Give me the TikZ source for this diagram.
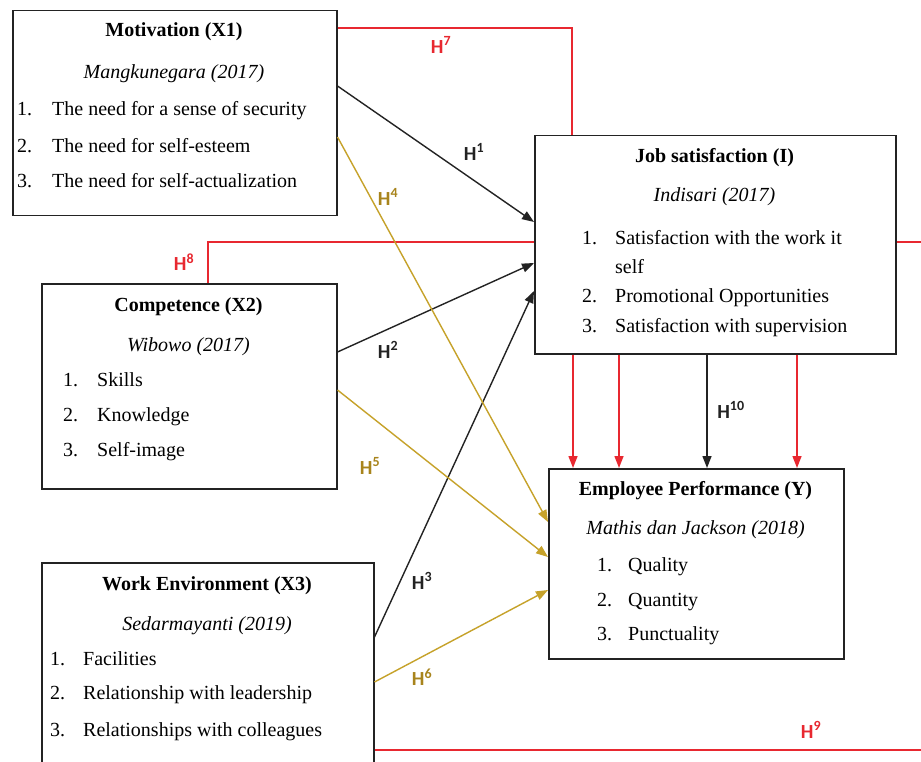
\documentclass[tikz,border=0pt]{standalone}
\usepackage{fontspec}
\setmainfont{Liberation Serif}
\newfontfamily\hypfont{Carlito}
\usetikzlibrary{arrows.meta, calc}

\definecolor{hred}{RGB}{232,40,48}
\definecolor{hgold}{RGB}{198,162,42}
\definecolor{hgoldtxt}{RGB}{168,132,28}
\definecolor{hblack}{RGB}{35,35,35}

\newcommand{\boxfont}{\fontsize{20}{24}\selectfont}

\begin{document}
\begin{tikzpicture}[x=1pt, y=-1pt,
  box/.style={draw=hblack, line width=1.5pt, anchor=north west, inner sep=0pt},
  ttl/.style={font=\boxfont\bfseries, anchor=base},
  cite/.style={font=\boxfont\itshape, anchor=base},
  itm/.style={font=\boxfont, anchor=base west, inner sep=0pt},
  hyp/.style={font=\hypfont\fontsize{20}{24}\selectfont\bfseries},
  blkarr/.style={draw=hblack, line width=1.4pt, -{Triangle[length=12pt,width=9pt]}},
  goldarr/.style={draw=hgold, line width=1.4pt, -{Triangle[length=12pt,width=9pt]}},
  redarr/.style={draw=hred, line width=1.4pt, -{Triangle[length=12pt,width=9pt]}},
  redline/.style={draw=hred, line width=1.4pt}]
\useasboundingbox (0,0) rectangle (921,762);
\fill[white] (0,0) rectangle (921,762);

% kotak variabel
\node[box, minimum width=324pt, minimum height=205pt] (mot) at (12,10) {};
\node[box, minimum width=295pt, minimum height=205pt] (comp) at (41,283) {};
\node[box, minimum width=332pt, minimum height=222pt] (env) at (41,562) {};
\node[box, minimum width=361pt, minimum height=218pt] (job) at (534,135) {};
\node[box, minimum width=295pt, minimum height=190pt] (perf) at (548,468) {};

% Motivation (X1)
\node[ttl] (motT) at (174,37) {Motivation (X1)};
\node[cite] (motC) at (174,79) {Mangkunegara (2017)};
\node[itm] (motA) at (17,116) {\makebox[35pt][l]{1.}The need for a sense of security};
\node[itm] (motB) at (17,153) {\makebox[35pt][l]{2.}The need for self-esteem};
\node[itm] (motD) at (17,188) {\makebox[35pt][l]{3.}The need for self-actualization};

% Competence (X2)
\node[ttl] (compT) at (188.5,311) {Competence (X2)};
\node[cite] (compC) at (188.5,351) {Wibowo (2017)};
\node[itm] (compA) at (63,386) {\makebox[34pt][l]{1.}Skills};
\node[itm] (compB) at (63,421) {\makebox[34pt][l]{2.}Knowledge};
\node[itm] (compD) at (63,456) {\makebox[34pt][l]{3.}Self-image};

% Work Environment (X3)
\node[ttl] (envT) at (207,590) {Work Environment (X3)};
\node[cite] (envC) at (207,630) {Sedarmayanti (2019)};
\node[itm] (envA) at (50,665) {\makebox[33pt][l]{1.}Facilities};
\node[itm] (envB) at (50,699) {\makebox[33pt][l]{2.}Relationship with leadership};
\node[itm] (envD) at (50,736) {\makebox[33pt][l]{3.}Relationships with colleagues};

% Job satisfaction (I)
\node[ttl] (jobT) at (714.5,163) {Job satisfaction (I)};
\node[cite] (jobC) at (714.5,202) {Indisari (2017)};
\node[itm] (jobA) at (582,244) {\makebox[33pt][l]{1.}Satisfaction with the work it};
\node[itm] (jobA2) at (615,273) {self};
\node[itm] (jobB) at (582,302) {\makebox[33pt][l]{2.}Promotional Opportunities};
\node[itm] (jobD) at (582,332) {\makebox[33pt][l]{3.}Satisfaction with supervision};

% Employee Performance (Y)
\node[ttl] (perfT) at (695.5,495) {Employee Performance (Y)};
\node[cite] (perfC) at (695.5,534) {Mathis dan Jackson (2018)};
\node[itm] (perfA) at (597,571) {\makebox[31pt][l]{1.}Quality};
\node[itm] (perfB) at (597,606) {\makebox[31pt][l]{2.}Quantity};
\node[itm] (perfD) at (597,640) {\makebox[31pt][l]{3.}Punctuality};

% garis merah (mediasi)
\draw[redline] ($(mot.north east)+(0,18)$) -| ($(job.north west)+(38,0)$);
\draw[redline] ($(job.north west)+(0,107)$) -| ($(comp.north west)+(167,0)$);
\draw[redline] ($(job.north east)+(0,107)$) -- ++(40,0);
\draw[redline] ($(env.north east)+(0,188)$) -- ++(580,0);

% X -> I
\draw[blkarr] ($(mot.north east)+(0,76)$) -- ($(job.north west)+(0,87)$);
\draw[blkarr] ($(comp.north east)+(0,69)$) -- ($(job.north west)+(0,128)$);
\draw[blkarr] ($(env.north east)+(0,75)$) -- ($(job.north west)+(0,156)$);

% X -> Y
\draw[goldarr] ($(mot.north east)+(0,127)$) -- ($(perf.north west)+(0,54)$);
\draw[goldarr] ($(comp.north east)+(0,107)$) -- ($(perf.north west)+(0,89)$);
\draw[goldarr] ($(env.north east)+(0,120)$) -- ($(perf.north west)+(0,122)$);

% I -> Y
\coordinate (d1) at ($(job.south west)+(39,0)$);
\coordinate (d2) at ($(job.south west)+(85,0)$);
\coordinate (d3) at ($(job.south west)+(173,0)$);
\coordinate (d4) at ($(job.south west)+(263,0)$);
\draw[redarr] (d1) -- (d1 |- perf.north);
\draw[redarr] (d2) -- (d2 |- perf.north);
\draw[blkarr] (d3) -- (d3 |- perf.north);
\draw[redarr] (d4) -- (d4 |- perf.north);

% label hipotesis
\node[hyp, text=hred] (h7) at (441,45) {H\textsuperscript{7}};
\node[hyp, text=hblack] (h1) at (474,152) {H\textsuperscript{1}};
\node[hyp, text=hgoldtxt] (h4) at (388,197) {H\textsuperscript{4}};
\node[hyp, text=hred] (h8) at (184,262) {H\textsuperscript{8}};
\node[hyp, text=hblack] (h2) at (388,350) {H\textsuperscript{2}};
\node[hyp, text=hgoldtxt] (h5) at (370,466) {H\textsuperscript{5}};
\node[hyp, text=hblack] (h3) at (422,581) {H\textsuperscript{3}};
\node[hyp, text=hgoldtxt] (h6) at (422,677) {H\textsuperscript{6}};
\node[hyp, text=hblack] (h10) at (731,410) {H\textsuperscript{10}};
\node[hyp, text=hred] (h9) at (811,730) {H\textsuperscript{9}};
\end{tikzpicture}
\end{document}
